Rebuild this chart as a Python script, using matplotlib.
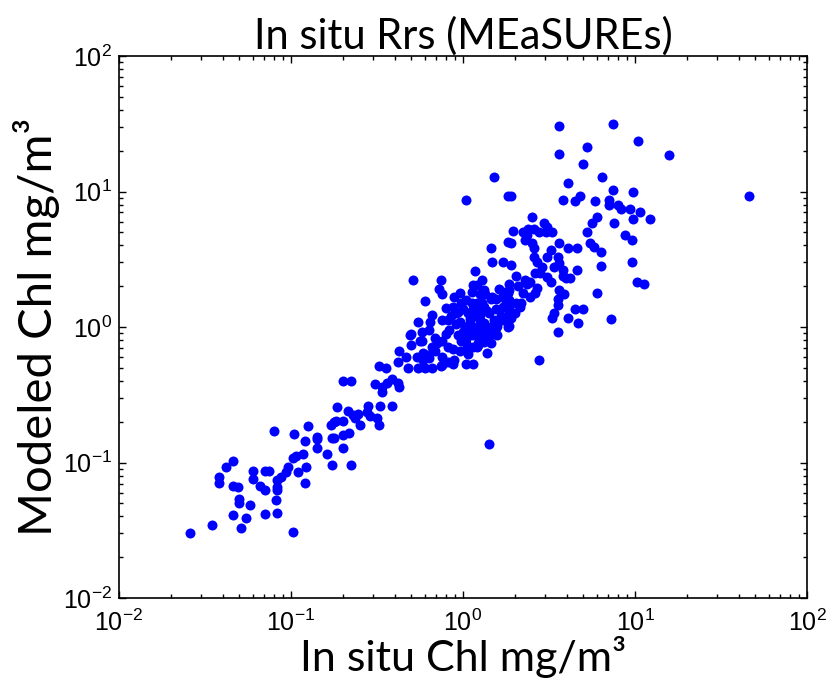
import numpy as np
from matplotlib import pyplot as plt

plt.rcParams['font.family'] = ['Liberation Sans', 'DejaVu Sans']

# log10 of chlorophyll (mg/m^3)
# low end of the cloud
low_x = [-1.59, -1.46, -1.29, -0.99, -1.34, -1.26, -1.15, -1.08, -1.30, -1.30,
         -1.24, -1.09, -1.42, -1.42, -1.38, -1.34, -1.34, -1.31, -1.22, -1.22,
         -1.15, -1.13, -1.18, -1.15, -1.08, -1.08, -1.08, -1.06, -1.02, -1.03,
         -0.99, -0.97, -0.93, -0.96, -0.91, -0.92, -1.10, -0.98, -0.92, -0.90,
         -0.85, -0.85, -0.85, -0.79, -0.76, -0.77, -0.75, -0.74, -0.76, -0.75,
         -0.73]
low_y = [-1.52, -1.46, -1.48, -1.51, -1.39, -1.41, -1.38, -1.37, -1.27, -1.30,
         -1.31, -1.28, -1.11, -1.15, -1.03, -0.99, -1.17, -1.18, -1.06, -1.12,
         -1.06, -1.06, -1.17, -1.20, -1.13, -1.18, -1.20, -1.11, -1.03, -1.07,
         -0.97, -0.95, -0.94, -1.07, -1.03, -1.15, -0.77, -0.79, -0.84, -0.73,
         -0.81, -0.83, -0.89, -0.94, -1.02, -0.72, -0.70, -0.69, -0.82, -0.82,
         -0.59]

mid_x = [-0.65, -0.70, -0.66, -0.70, -0.67, -0.64, -0.61, -0.70, -0.60, -0.63,
         -0.55, -0.56, -0.54, -0.50, -0.49, -0.48, -0.41, -0.70, -0.65, -0.51,
         -0.47, -0.47, -0.44, -0.41, -0.38, -0.37, -0.49, -0.45, -0.38, -0.32,
         -0.37, -0.30, -0.24, -0.30, -0.26, -0.20, -0.18, -0.19, -0.22, -0.27,
         -0.23, -0.20, -0.18, -0.16, -0.22, -0.18, -0.13]
mid_y = [-1.02, -0.80, -0.78, -0.89, -0.62, -0.65, -0.64, -0.69, -0.72, -0.67,
         -0.58, -0.63, -0.66, -0.67, -0.72, -0.58, -0.58, -0.40, -0.40, -0.42,
         -0.44, -0.48, -0.41, -0.38, -0.41, -0.44, -0.29, -0.30, -0.26, -0.30,
         -0.18, -0.13, -0.10, -0.05, 0.04, -0.02, 0.09, 0.04, 0.19, -0.22,
         -0.19, -0.23, -0.15, -0.18, -0.30, -0.30, -0.29]

# dense part around 1 mg/m^3
core_x = [-0.29, -0.13, -0.14, -0.12, -0.10, -0.12, -0.09, -0.05, -0.02, -0.06,
          -0.04, 0.07, 0.11, 0.08, 0.06, 0.17, 0.23, 0.28, 0.27, 0.31,
          0.23, 0.26, 0.10, 0.16, 0.19, 0.02, 0.05, 0.08, 0.12, 0.00,
          0.03, 0.06, 0.10, 0.15, 0.19, 0.23, 0.27, 0.30, -0.02, 0.01,
          0.04, 0.08, 0.12, 0.16, 0.20, 0.23, 0.27, -0.08, -0.03, -0.01,
          0.03, 0.06, 0.09, 0.12, 0.15, 0.17, -0.12, -0.15, -0.16, -0.09,
          -0.06, -0.02, 0.02, 0.06, 0.09, -0.17, -0.21, -0.23, -0.12, -0.09,
          -0.05, 0.02, 0.06, -0.25, -0.31, -0.24, -0.26, -0.33, -0.12, -0.06,
          0.05, 0.10, 0.13, 0.18, 0.07, 0.14, 0.20, 0.10, 0.04, 0.16,
          0.22, 0.00, -0.04, 0.11, 0.02, 0.13, 0.05, -0.01, 0.08, 0.19,
          -0.07, 0.25, 0.14, 0.09, -0.10, 0.21, 0.03, 0.12, -0.03, 0.17]
core_y = [0.35, 0.35, 0.28, 0.24, 0.14, 0.05, 0.05, 0.22, 0.25, 0.15,
          0.10, 0.41, 0.35, 0.31, 0.31, 0.48, 0.48, 0.46, 0.32, 0.38,
          0.26, 0.25, 0.24, 0.21, 0.21, 0.20, 0.18, 0.18, 0.15, 0.13,
          0.10, 0.13, 0.09, 0.10, 0.13, 0.15, 0.13, 0.10, 0.04, 0.00,
          0.03, 0.00, 0.03, 0.00, 0.01, 0.05, 0.01, -0.02, -0.06, -0.10,
          -0.07, -0.06, -0.12, -0.11, -0.08, -0.04, -0.10, -0.12, -0.08, -0.15,
          -0.16, -0.18, -0.17, -0.15, -0.13, -0.17, -0.21, -0.24, -0.22, -0.26,
          -0.24, -0.27, -0.27, -0.10, -0.06, -0.04, -0.30, -0.22, -0.28, -0.27,
          -0.02, 0.05, -0.03, 0.05, 0.08, 0.12, -0.06, -0.06, 0.06, -0.12,
          0.08, -0.04, 0.02, 0.18, -0.12, 0.24, 0.26, 0.18, -0.15, -0.01,
          0.08, 0.18, -0.19, 0.15, -0.05, 0.28, -0.20, 0.27, 0.11, 0.22]

# high end
high_x = [0.02, 0.18, 0.26, 0.28, 0.40, 0.29, 0.47, 0.49, 0.52, 0.35,
          0.38, 0.41, 0.44, 0.48, 0.36, 0.40, 0.41, 0.26, 0.28, 0.16,
          0.56, 0.61, 0.66, 0.51, 0.49, 0.55, 0.56, 0.53, 0.41, 0.43,
          0.46, 0.66, 0.36, 0.39, 0.42, 0.45, 0.49, 0.51, 0.58, 0.60,
          0.62, 0.27, 0.32, 0.35, 0.39, 0.43, 0.23, 0.27, 0.31, 0.33,
          0.26, 0.28, 0.26, 0.56, 0.55, 0.59, 0.55, 0.53, 0.52, 0.61,
          0.65, 0.70, 0.67, 0.55, 0.72, 0.75, 0.74, 0.76, 0.80, 0.80,
          0.78, 0.86, 0.44, 0.56, 0.87, 1.02, 1.20, 0.56, 0.72, 0.70,
          0.81, 0.61, 0.87, 0.99, 0.58, 0.65, 0.68, 0.77, 0.85, 0.85,
          0.90, 0.92, 0.97, 1.03, 1.09, 0.99, 0.78, 0.88, 0.37, 0.94,
          0.98, 0.98, 1.01, 1.05, 0.37, 0.42, 0.58, 1.66, 0.34, 0.15]
high_y = [0.94, 1.11, 0.97, 0.97, 0.81, 0.71, 0.77, 0.74, 0.70, 0.70,
          0.72, 0.72, 0.70, 0.70, 0.64, 0.62, 0.58, 0.63, 0.62, 0.58,
          0.62, 0.58, 0.58, 0.57, 0.52, 0.52, 0.47, 0.44, 0.52, 0.48,
          0.44, 0.42, 0.35, 0.33, 0.40, 0.40, 0.37, 0.33, 0.38, 0.36,
          0.36, 0.27, 0.30, 0.25, 0.22, 0.29, 0.22, 0.20, 0.18, 0.15,
          0.09, 0.07, 0.00, 0.27, 0.21, 0.24, 0.16, 0.10, 0.07, 0.07,
          0.13, 0.13, 0.03, -0.04, 0.70, 0.77, 0.62, 0.59, 0.55, 0.45,
          0.25, 0.06, -0.24, 1.48, 1.50, 1.37, 1.27, 1.28, 1.33, 1.20,
          1.11, 1.06, 1.01, 1.00, 0.94, 0.93, 0.97, 0.93, 0.94, 0.90,
          0.90, 0.87, 0.87, 0.85, 0.80, 0.80, 0.81, 0.77, 0.68, 0.68,
          0.64, 0.48, 0.33, 0.32, 0.32, 0.25, 0.42, 0.97, 0.18, -0.86]

log_insitu = np.array(low_x + mid_x + core_x + high_x)
log_model = np.array(low_y + mid_y + core_y + high_y)

fig = plt.figure(figsize=(8.3, 6.94), dpi=100)
ax = fig.add_axes([0.1434, 0.1383, 0.8289, 0.781])

ax.plot(10**log_insitu, 10**log_model, 'o', color='#0000ff', ms=7.2, mew=0)

ax.set_xscale('log')
ax.set_yscale('log')
ax.set_xlim(1e-2, 1e2)
ax.set_ylim(1e-2, 1e2)
ax.tick_params(which='both', direction='in', top=True, right=True, width=1)
ax.tick_params(which='major', length=5, labelsize=18)
ax.tick_params(which='minor', length=3)
ax.tick_params(axis='x', which='major', pad=8)
ax.tick_params(axis='y', which='major', pad=5)
for s in ax.spines.values():
    s.set_linewidth(1.2)

ax.set_title('In situ Rrs (MEaSUREs)', fontsize=30, family='Lato', pad=5)
ax.set_xlabel('In situ Chl mg/m³', fontsize=31, family='Lato', labelpad=0)
ax.set_ylabel('Modeled Chl mg/m³', fontsize=34, family='Lato', labelpad=2)

plt.savefig('out.png')
